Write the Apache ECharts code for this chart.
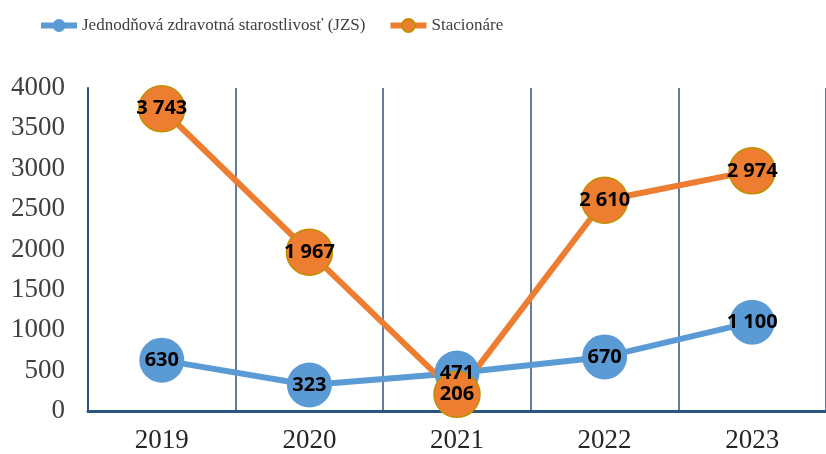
<!DOCTYPE html>
<html><head><meta charset="utf-8">
<script src="https://cdn.jsdelivr.net/npm/echarts@6/dist/echarts.min.js"></script>
<style>html,body{margin:0;padding:0;background:#fff}#c{width:826px;height:454px}</style>
</head><body><div id="c"></div>
<script>
const categories = ['2019','2020','2021','2022','2023'];
const jzsValues = [630, 323, 471, 670, 1100];
const stacValues = [3743, 1967, 206, 2610, 2974];
const seriesNames = ['Jednodňová zdravotná starostlivosť (JZS)', 'Stacionáre'];

const fmt = v => String(v).replace(/\B(?=(\d{3})+(?!\d))/g, ' ');
const serif = '"Liberation Serif", "Times New Roman", serif';
const chart = echarts.init(document.getElementById('c'));
const lbl = {show:true, position:'inside', color:'#000', fontWeight:'bold', fontSize:20, fontFamily:'"Open Sans", sans-serif', formatter:p=>fmt(p.value)};
chart.setOption({
  animation:false,
  legend:{top:17, left:38, padding:0, itemWidth:36, itemHeight:16, itemGap:22,
    lineStyle:{width:6},
    textStyle:{fontFamily:serif, fontSize:17, color:'#404040'}},
  grid:{left:88, right:0, top:88, bottom:43},
  xAxis:{type:'category', data:categories, boundaryGap:true,
    axisLine:{lineStyle:{color:'#2b5480', width:3}},
    axisTick:{show:false},
    axisLabel:{fontFamily:serif, fontSize:27, color:'#262626', margin:16},
    splitLine:{show:true, interval:0, lineStyle:{color:'#2b5480', width:1.5}}},
  yAxis:{type:'value', min:0, max:4000, interval:500,
    axisLine:{show:true, lineStyle:{color:'#2b5480', width:2}},
    axisTick:{show:false}, splitLine:{show:false},
    axisLabel:{fontFamily:serif, fontSize:27, color:'#404040', margin:23, formatter:v=>String(v)}},
  series:[
    {name:seriesNames[0], type:'line', data:jzsValues, symbol:'circle', symbolSize:45,
     lineStyle:{color:'#5b9bd5', width:6}, itemStyle:{color:'#5b9bd5'}, label:lbl},
    {name:seriesNames[1], type:'line', data:stacValues, symbol:'circle', symbolSize:46,
     lineStyle:{color:'#ed7d31', width:6}, itemStyle:{color:'#ed7d31', borderColor:'#bf9000', borderWidth:1.5}, label:lbl}
  ]
});
</script></body></html>
